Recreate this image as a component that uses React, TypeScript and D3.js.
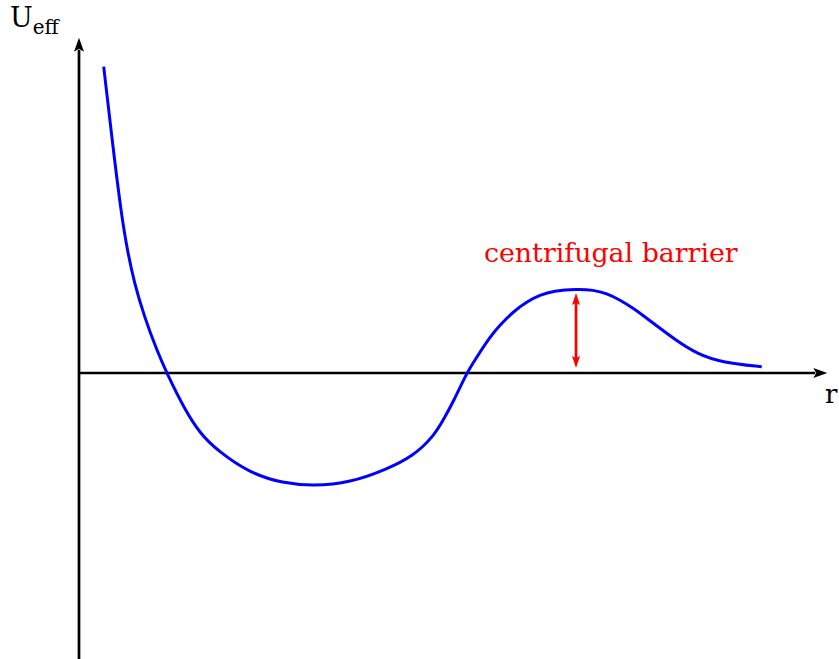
import React from "react";
import * as d3 from "d3";

// Effective potential curve (r in arbitrary units, U_eff in arbitrary units)
const rValues = [0.353, 0.49, 0.61, 0.69, 0.79, 0.933, 1.11, 1.253, 1.514, 1.729, 1.967, 2.443, 2.914, 3.347, 3.871, 4.396, 4.776, 5.061, 5.204, 5.347, 5.539, 5.657, 5.871, 6.014, 6.204, 6.396, 6.586, 6.776, 7.11, 7.347, 7.539, 7.729, 7.919, 8.11, 8.3, 8.49, 8.824, 9.204, 9.753];
const uValues = [3.063, 2.23, 1.563, 1.23, 0.9, 0.563, 0.23, 0.0, -0.37, -0.603, -0.77, -1.003, -1.103, -1.13, -1.097, -0.963, -0.83, -0.637, -0.47, -0.287, 0.0, 0.13, 0.363, 0.48, 0.613, 0.713, 0.78, 0.82, 0.84, 0.83, 0.797, 0.73, 0.647, 0.547, 0.447, 0.347, 0.19, 0.103, 0.063];

// Axis extents
const rAxisMax = 10.69;
const uAxisMin = -2.95;
const uAxisMax = 3.353;

// Centrifugal barrier marker
const barrierR = [7.1];
const barrierU = [0.05, 0.8];
const barrierLabel = "centrifugal barrier";

const W = 839;
const H = 659;

export default function App() {
  const x = d3.scaleLinear().domain([0, 10]).range([79, 779]);
  const y = d3.scaleLinear().domain([0, 1]).range([373, 273]);

  const pts: [number, number][] = rValues.map((r, i) => [r, uValues[i]]);
  const line = d3
    .line<[number, number]>()
    .x((d) => x(d[0]))
    .y((d) => y(d[1]))
    .curve(d3.curveBasis);

  const x0 = x(0);
  const y0 = y(0);
  const xTip = x(rAxisMax);
  const yTip = y(uAxisMax);
  const ah = 14; // arrow head length
  const aw = 5; // half width

  const bx = x(barrierR[0]);
  const bLow = y(barrierU[0]);
  const bHigh = y(barrierU[1]);
  const rh = 12;
  const rw = 4;

  const font = "'DejaVu Serif', serif";

  return (
    <svg
      width={W}
      height={H}
      style={{ position: "absolute", left: 0, top: 0, background: "#fff" }}
    >
      {/* y axis */}
      <line x1={x0} y1={y(uAxisMin)} x2={x0} y2={yTip + ah - 2} stroke="#000" strokeWidth={2.7} />
      <path
        d={`M${x0},${yTip} L${x0 + aw},${yTip + ah} L${x0},${yTip + ah - 3} L${x0 - aw},${yTip + ah} Z`}
        fill="#000"
      />
      {/* x axis */}
      <line x1={x0} y1={y0} x2={xTip - ah + 2} y2={y0} stroke="#000" strokeWidth={2.7} />
      <path
        d={`M${xTip},${y0} L${xTip - ah},${y0 - aw} L${xTip - ah + 3},${y0} L${xTip - ah},${y0 + aw} Z`}
        fill="#000"
      />

      {/* curve */}
      <path d={line(pts) || ""} fill="none" stroke="#0000ff" strokeWidth={3} />

      {/* barrier arrow */}
      <line x1={bx} y1={bHigh + rh - 2} x2={bx} y2={bLow - rh + 2} stroke="#ff0000" strokeWidth={2.7} />
      <path
        d={`M${bx},${bHigh} L${bx + rw},${bHigh + rh} L${bx},${bHigh + rh - 2} L${bx - rw},${bHigh + rh} Z`}
        fill="#ff0000"
      />
      <path
        d={`M${bx},${bLow} L${bx + rw},${bLow - rh} L${bx},${bLow - rh + 2} L${bx - rw},${bLow - rh} Z`}
        fill="#ff0000"
      />

      {/* labels */}
      <text x={484} y={262} fill="#ff0000" fontFamily={font} fontSize={26.8}>
        {barrierLabel}
      </text>
      <text x={10} y={27} fill="#000" fontFamily={font} fontSize={27}>
        U
        <tspan fontSize={20} dy={7}>eff</tspan>
      </text>
      <text x={825} y={403} fill="#000" fontFamily={font} fontSize={26}>
        r
      </text>
    </svg>
  );
}
